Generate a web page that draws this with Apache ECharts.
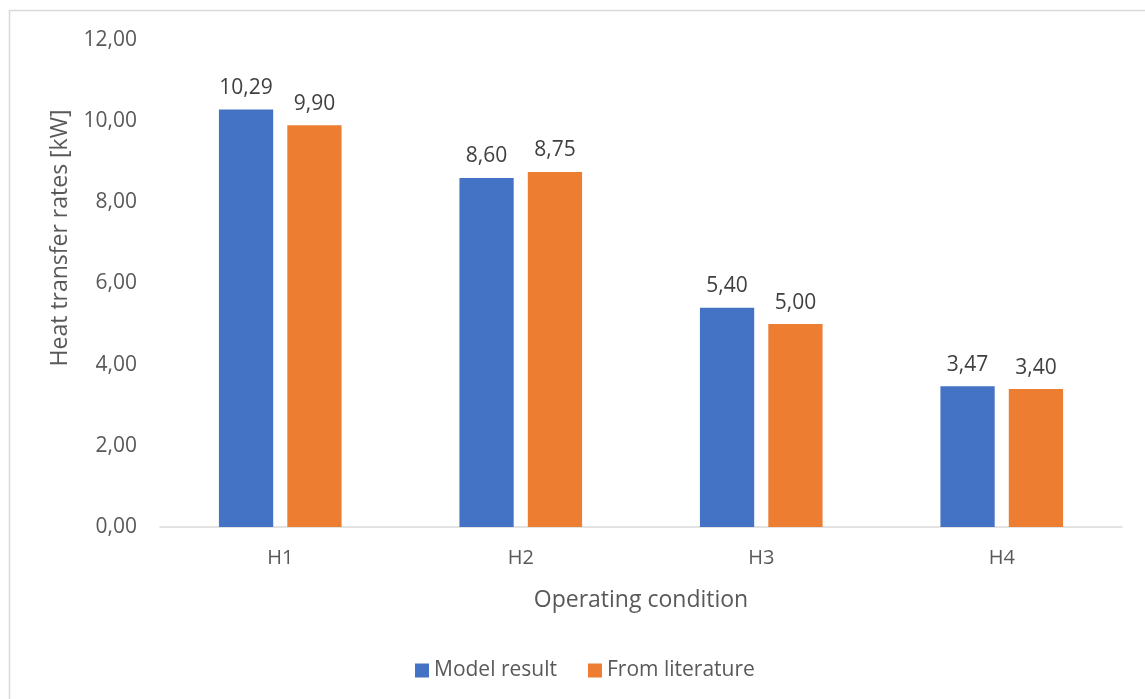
<!DOCTYPE html>
<html>
<head>
<meta charset="utf-8">
<script src="https://cdn.jsdelivr.net/npm/echarts@6/dist/echarts.min.js"></script>
<style>
  html, body { margin: 0; padding: 0; background: #ffffff; }
  #chart { width: 1145px; height: 699px; }
</style>
</head>
<body>
<div id="chart"></div>
<script>
// Operating conditions and heat transfer rates [kW]
const categories = ['H1', 'H2', 'H3', 'H4'];
const modelResult = [10.29, 8.60, 5.40, 3.47];
const fromLiterature = [9.90, 8.75, 5.00, 3.40];
const seriesNames = ['Model result', 'From literature'];
const yTicks = { min: 0, max: 12, interval: 2 };
const yTitle = 'Heat transfer rates [kW]';

const FONT = '"Open Sans", "Liberation Sans", sans-serif';
const TEXT = '#595959';

// decimal comma, two places
const fmt = v => Number(v).toFixed(2).replace('.', ',');

const chart = echarts.init(document.getElementById('chart'), null, { renderer: 'canvas' });

const labelStyle = {
  show: true,
  position: 'top',
  distance: 11,
  color: '#404040',
  fontFamily: FONT,
  fontSize: 21,
  formatter: p => fmt(p.value)
};

chart.setOption({
  animation: false,
  backgroundColor: '#ffffff',
  textStyle: { fontFamily: FONT },
  graphic: [
    {
      type: 'rect',
      shape: { x: 9.5, y: 10.5, width: 1300, height: 900 },
      style: { fill: 'none', stroke: '#d9d9d9', lineWidth: 1.5 },
      silent: true,
      z: -10
    },
    {
      // value axis title, placed beside the tick labels
      type: 'text',
      x: 60,
      y: 238,
      rotation: Math.PI / 2,
      style: {
        text: yTitle,
        fill: TEXT,
        fontFamily: FONT,
        fontSize: 23,
        align: 'center',
        verticalAlign: 'middle'
      },
      silent: true
    }
  ],
  grid: { left: 160, right: 23, top: 40, bottom: 172, containLabel: false },
  legend: {
    data: seriesNames,
    left: 410,
    top: 655,
    icon: 'rect',
    itemWidth: 14,
    itemHeight: 14,
    itemGap: 31,
    textStyle: { color: TEXT, fontFamily: FONT, fontSize: 21 }
  },
  xAxis: {
    type: 'category',
    data: categories,
    name: 'Operating condition',
    nameLocation: 'middle',
    nameGap: 62,
    nameTextStyle: { color: TEXT, fontFamily: FONT, fontSize: 23 },
    axisLine: { lineStyle: { color: '#d9d9d9', width: 1.5 } },
    axisTick: { show: false },
    axisLabel: { color: TEXT, fontFamily: FONT, fontSize: 20, margin: 21 }
  },
  yAxis: {
    type: 'value',
    min: yTicks.min,
    max: yTicks.max,
    interval: yTicks.interval,
    axisLine: { show: false },
    axisTick: { show: false },
    splitLine: { show: false },
    axisLabel: { color: TEXT, fontFamily: FONT, fontSize: 21, margin: 23, formatter: fmt }
  },
  series: [
    {
      name: seriesNames[0],
      type: 'bar',
      data: modelResult,
      itemStyle: { color: '#4472C4' },
      barGap: '26%',
      barCategoryGap: '49%',
      label: labelStyle
    },
    {
      name: seriesNames[1],
      type: 'bar',
      data: fromLiterature,
      itemStyle: { color: '#ED7D31' },
      barGap: '26%',
      barCategoryGap: '49%',
      label: labelStyle
    }
  ]
});
</script>
</body>
</html>
